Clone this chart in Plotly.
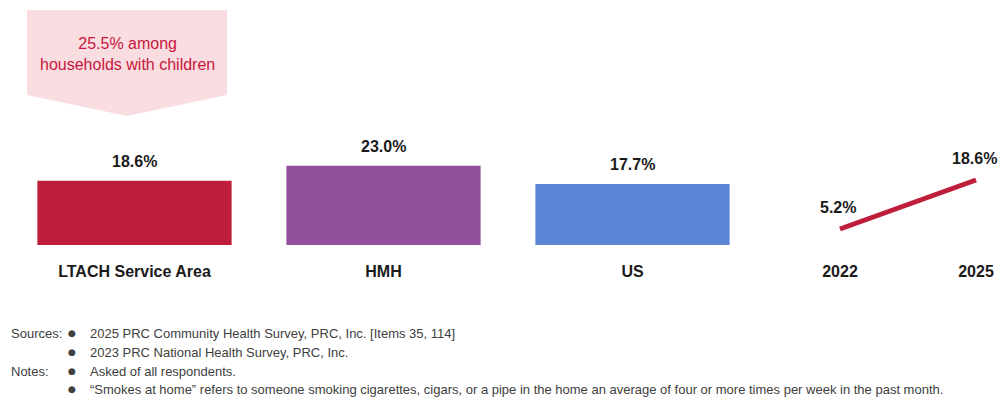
import plotly.graph_objects as go

# ---- data ----
bar_categories = ["LTACH Service Area", "HMH", "US"]
bar_values = [18.6, 23.0, 17.7]
bar_colors = ["#BE1E3A", "#92509C", "#5B86D6"]

trend_years = ["2022", "2025"]
trend_values = [5.2, 18.6]
trend_color = "#BE1E3A"

callout_text = "25.5% among<br>households with children"

source_items = ["2025 PRC Community Health Survey, PRC, Inc. [Items 35, 114]",
                "2023 PRC National Health Survey, PRC, Inc."]
note_items = ["Asked of all respondents.",
              "\u201cSmokes at home\u201d refers to someone smoking cigarettes, cigars, or a pipe in the home an average of four or more times per week in the past month."]

W, H = 1003, 398
FONT = "Liberation Sans Narrow, Arial Narrow, Liberation Sans, Arial, sans-serif"
LBL = dict(family=FONT, size=16, color="#1a1a1a", weight="bold")

def px(x):
    return x / W

def py(y):
    return 1 - y / H

fig = go.Figure()

fig.add_trace(go.Bar(
    x=bar_categories, y=bar_values,
    marker=dict(color=bar_colors, line=dict(width=0)),
    xaxis="x", yaxis="y",
    showlegend=False, hoverinfo="skip",
))

fig.add_trace(go.Scatter(
    x=trend_years, y=trend_values,
    mode="lines",
    line=dict(color=trend_color, width=5),
    cliponaxis=False,
    xaxis="x2", yaxis="y2",
    showlegend=False, hoverinfo="skip",
))

# value labels from data via axes (category axes addressed by serial index)
for i, v in enumerate(bar_values):
    fig.add_annotation(x=i, y=v, xref="x", yref="y", text=f"{v:.1f}%",
                       showarrow=False, yanchor="bottom", yshift=9, font=LBL)
for i, v in enumerate(trend_values):
    fig.add_annotation(x=i, y=v, xref="x2", yref="y2", text=f"{v:.1f}%",
                       showarrow=False, yanchor="bottom", yshift=11, xshift=-2, font=LBL)

x_left = 134.5 - 124.5
x_right = x_left + 3 * 249
scale = 3.45
y_base = 245
y2_base = 248
scale2 = 3.657

fig.update_layout(
    width=W, height=H,
    margin=dict(l=0, r=0, t=0, b=0),
    paper_bgcolor="white", plot_bgcolor="white",
    bargap=0.22,
    xaxis=dict(domain=[px(x_left), px(x_right)], type="category",
               range=[-0.5, 2.5], showgrid=False, zeroline=False, showline=False,
               ticks="outside", ticklen=12, tickcolor="rgba(0,0,0,0)",
               tickfont=LBL, anchor="y", fixedrange=True),
    yaxis=dict(domain=[py(y_base), 1], range=[0, y_base / scale],
               showgrid=False, zeroline=False, showline=False, showticklabels=False,
               fixedrange=True),
    xaxis2=dict(domain=[px(780), 1], type="category",
                range=[(780 - 840) / 136, (1003 - 840) / 136],
                showgrid=False, zeroline=False, showline=False,
                ticks="outside", ticklen=9, tickcolor="rgba(0,0,0,0)",
                tickfont=LBL, anchor="y2", fixedrange=True),
    yaxis2=dict(domain=[py(y2_base), 1], range=[0, y2_base / scale2],
                showgrid=False, zeroline=False, showline=False, showticklabels=False,
                anchor="x2", fixedrange=True),
)

# callout arrow shape
pts = [(27, 10), (227, 10), (227, 95), (127, 116), (27, 95)]
path = "M " + " L ".join(f"{px(x):.5f},{py(y):.5f}" for x, y in pts) + " Z"
fig.add_shape(type="path", path=path, xref="paper", yref="paper",
              fillcolor="#F9DDE0", line=dict(width=0), layer="below")
fig.add_annotation(x=px(127), y=py(54), xref="paper", yref="paper",
                   text=callout_text, showarrow=False,
                   font=dict(family="Liberation Sans, Arial, sans-serif", size=16, color="#C8163E"),
                   align="center", xanchor="center", yanchor="middle")

# footnotes
foot_font = dict(family="Liberation Sans, Arial, sans-serif", size=13, color="#404040")
rows = [("Sources:", source_items[0], 333), ("", source_items[1], 352),
        ("Notes:", note_items[0], 371), ("", note_items[1], 389)]
for label, txt, y in rows:
    if label:
        fig.add_annotation(x=px(9), y=py(y), xref="paper", yref="paper", text=label,
                           showarrow=False, xanchor="left", yanchor="middle", font=foot_font)
    fig.add_annotation(x=px(72), y=py(y), xref="paper", yref="paper", text="\u25cf",
                       showarrow=False, xanchor="center", yanchor="middle",
                       font=dict(family="DejaVu Sans", size=9, color="#404040"))
    fig.add_annotation(x=px(88), y=py(y), xref="paper", yref="paper", text=txt,
                       showarrow=False, xanchor="left", yanchor="middle", font=foot_font)

fig.write_html("out.html", config={"displayModeBar": False},
               post_script="document.body.style.margin='0';document.body.style.overflow='hidden';")
